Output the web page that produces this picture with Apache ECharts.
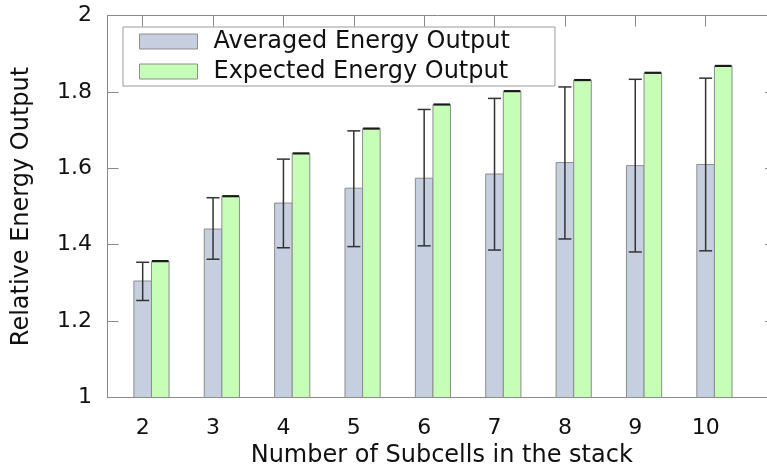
<!DOCTYPE html>
<html>
<head>
<meta charset="utf-8">
<script src="https://cdn.jsdelivr.net/npm/echarts@6/dist/echarts.min.js"></script>
<style>
html,body{margin:0;padding:0;background:#fff;}
#chart{width:767px;height:470px;}
</style>
</head>
<body>
<div id="chart"></div>
<script>
const categories = [2, 3, 4, 5, 6, 7, 8, 9, 10];
const averaged = [1.305, 1.441, 1.509, 1.548, 1.574, 1.585, 1.615, 1.607, 1.610];
const averagedLow = [1.254, 1.362, 1.392, 1.395, 1.397, 1.386, 1.415, 1.381, 1.384];
const averagedHigh = [1.354, 1.523, 1.624, 1.698, 1.754, 1.783, 1.813, 1.833, 1.836];
const expected = [1.357, 1.527, 1.639, 1.704, 1.767, 1.802, 1.831, 1.850, 1.868];
const yTickValues = [1, 1.2, 1.4, 1.6, 1.8, 2];

const seriesNames = ['Averaged Energy Output', 'Expected Energy Output'];
const blueFill = '#c6cfdf';
const greenFill = '#c6feb8';
const barStroke = '#8c8c8c';
const axisColor = '#8a8a8a';
const errColor = '#333333';
const font = 'DejaVu Sans';
const yMin = yTickValues[0], yMax = yTickValues[yTickValues.length - 1];

const chart = echarts.init(document.getElementById('chart'), null, {renderer: 'canvas'});

function barItem(offset, fill) {
  return function (params, api) {
    const x = api.value(0) + offset;
    const v = api.value(1);
    const unit = api.size([1, 0])[0];
    const w = unit * 0.25;
    const top = api.coord([x, v]);
    const base = api.coord([x, yMin]);
    return {
      type: 'rect',
      shape: {x: top[0] - w / 2, y: top[1], width: w, height: base[1] - top[1]},
      style: {fill: fill, stroke: barStroke, lineWidth: 1}
    };
  };
}

function errItem(params, api) {
  const x = api.value(0);
  const lo = api.coord([x, api.value(1)]);
  const hi = api.coord([x, api.value(2)]);
  const unit = api.size([1, 0])[0];
  const cw = unit * 0.185;
  const st = {stroke: errColor, lineWidth: 1.5};
  return {
    type: 'group',
    children: [
      {type: 'line', shape: {x1: lo[0], y1: lo[1], x2: hi[0], y2: hi[1]}, style: st},
      {type: 'line', shape: {x1: lo[0] - cw / 2, y1: lo[1], x2: lo[0] + cw / 2, y2: lo[1]}, style: st},
      {type: 'line', shape: {x1: hi[0] - cw / 2, y1: hi[1], x2: hi[0] + cw / 2, y2: hi[1]}, style: st}
    ]
  };
}

function greenCapItem(params, api) {
  const x = api.value(0) + 0.25;
  const p = api.coord([x, api.value(1)]);
  const unit = api.size([1, 0])[0];
  const w = unit * 0.235;
  return {
    type: 'line',
    shape: {x1: p[0] - w / 2, y1: p[1], x2: p[0] + w / 2, y2: p[1]},
    style: {stroke: '#1a1a1a', lineWidth: 2.2}
  };
}

const blueData = categories.map((c, i) => [c, averaged[i]]);
const greenData = categories.map((c, i) => [c, expected[i]]);
const errData = categories.map((c, i) => [c, averagedLow[i], averagedHigh[i]]);

const xCommon = {
  type: 'value', min: 1.5, max: 11,
  axisLine: {show: true, lineStyle: {color: axisColor, width: 1}},
  splitLine: {show: false}
};
const yCommon = {
  type: 'value', min: yMin, max: yMax, interval: 0.2,
  axisLine: {show: true, lineStyle: {color: axisColor, width: 1}},
  axisTick: {show: true, inside: true, length: 11, lineStyle: {color: axisColor}},
  splitLine: {show: false}
};

chart.setOption({
  animation: false,
  backgroundColor: '#ffffff',
  textStyle: {fontFamily: font},
  grid: {left: 107.5, top: 15.5, right: -9, bottom: 72.5, outerBoundsMode: 'none'},
  legend: {
    left: 123, top: 27,
    orient: 'vertical',
    itemWidth: 58, itemHeight: 15, itemGap: 6,
    icon: 'rect',
    padding: [2.5, 45, 2.5, 16],
    borderColor: '#9a9a9a', borderWidth: 1,
    selectedMode: false,
    textStyle: {fontFamily: font, fontSize: 24, color: '#111', padding: [0, 0, 0, 11]},
    data: [
      {name: seriesNames[0], itemStyle: {color: blueFill, borderColor: barStroke, borderWidth: 1}},
      {name: seriesNames[1], itemStyle: {color: greenFill, borderColor: barStroke, borderWidth: 1}}
    ]
  },
  xAxis: [
    Object.assign({}, xCommon, {
      position: 'bottom',
      name: 'Number of Subcells in the stack',
      nameLocation: 'middle', nameGap: 45.5,
      nameTextStyle: {fontFamily: font, fontSize: 24, color: '#111'},
      axisTick: {show: false},
      axisLabel: {show: true, customValues: categories, margin: 19.5,
        fontFamily: font, fontSize: 22, color: '#111'}
    }),
    Object.assign({}, xCommon, {
      position: 'top',
      axisTick: {show: true, inside: true, length: 11, customValues: categories,
        lineStyle: {color: axisColor}},
      axisLabel: {show: false, customValues: categories}
    })
  ],
  yAxis: [
    Object.assign({}, yCommon, {
      position: 'left',
      name: 'Relative Energy Output',
      nameLocation: 'middle', nameGap: 74, nameRotate: 90,
      nameTextStyle: {fontFamily: font, fontSize: 24, color: '#111'},
      axisLabel: {show: true, margin: 15.5, fontFamily: font, fontSize: 22, color: '#111'}
    }),
    Object.assign({}, yCommon, {
      position: 'right',
      axisLabel: {show: false}
    })
  ],
  series: [
    {
      name: seriesNames[0], type: 'custom', xAxisIndex: 0, yAxisIndex: 0,
      itemStyle: {color: blueFill}, renderItem: barItem(0, blueFill),
      encode: {x: 0, y: 1}, data: blueData, z: 2
    },
    {
      name: seriesNames[1], type: 'custom', xAxisIndex: 0, yAxisIndex: 0,
      itemStyle: {color: greenFill}, renderItem: barItem(0.25, greenFill),
      encode: {x: 0, y: 1}, data: greenData, z: 2
    },
    {
      name: 'err', type: 'custom', xAxisIndex: 0, yAxisIndex: 0,
      renderItem: errItem, encode: {x: 0, y: [1, 2]}, data: errData, z: 3
    },
    {
      name: 'cap', type: 'custom', xAxisIndex: 0, yAxisIndex: 0,
      renderItem: greenCapItem, encode: {x: 0, y: 1}, data: greenData, z: 3
    }
  ]
});
</script>
</body>
</html>
